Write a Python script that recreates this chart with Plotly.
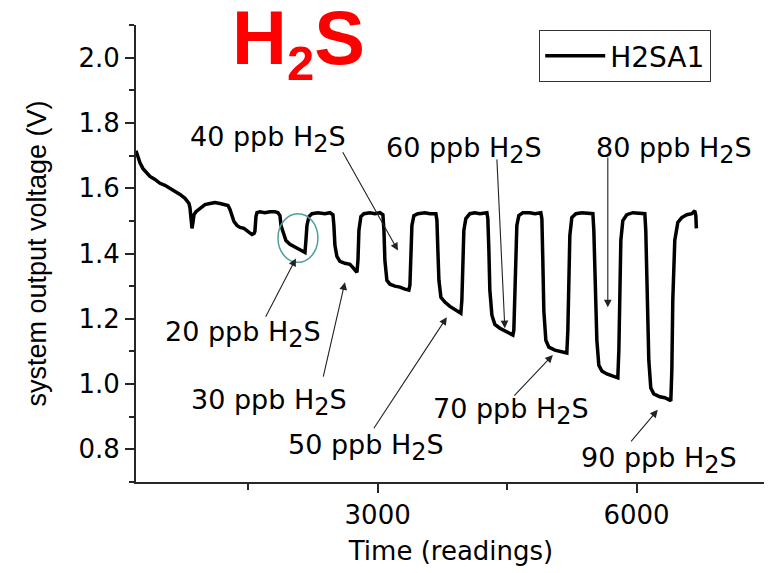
import plotly.graph_objects as go

# ---------------- data ----------------
readings = [200, 223, 246, 281, 316, 362, 420, 478, 536, 594, 652, 710, 768, 814, 825, 837, 849, 860, 872, 895,
            941, 999, 1057, 1115, 1173, 1231, 1266, 1289, 1312, 1335, 1370, 1405, 1451, 1497, 1544, 1567, 1578, 1590, 1602, 1636,
            1694, 1752, 1810, 1845, 1868, 1880, 1903, 1937, 1984, 2042, 2100, 2134, 2158, 2169, 2181, 2204, 2239, 2308, 2389, 2447,
            2482, 2493, 2505, 2528, 2563, 2621, 2679, 2714, 2749, 2760, 2772, 2783, 2806, 2841, 2910, 2968, 3026, 3061, 3073, 3084,
            3107, 3142, 3200, 3258, 3316, 3362, 3374, 3385, 3397, 3420, 3466, 3548, 3606, 3675, 3687, 3698, 3710, 3733, 3779, 3837,
            3895, 3953, 3964, 3976, 3988, 3999, 4022, 4069, 4127, 4185, 4266, 4277, 4289, 4300, 4324, 4358, 4416, 4474, 4532, 4567,
            4578, 4590, 4602, 4613, 4636, 4683, 4764, 4822, 4891, 4903, 4914, 4926, 4949, 4984, 5053, 5111, 5169, 5192, 5204, 5215,
            5227, 5250, 5297, 5366, 5436, 5494, 5505, 5517, 5540, 5563, 5598, 5656, 5714, 5772, 5783, 5795, 5806, 5818, 5841, 5887,
            5957, 6038, 6096, 6107, 6119, 6142, 6165, 6200, 6269, 6327, 6385, 6397, 6409, 6420, 6443, 6478, 6524, 6582, 6640, 6675,
            6687, 6693]
voltage = [1.715, 1.696, 1.678, 1.660, 1.648, 1.636, 1.627, 1.615, 1.609, 1.600, 1.590, 1.581, 1.569, 1.553, 1.541, 1.507, 1.477, 1.495, 1.519, 1.528,
           1.538, 1.550, 1.553, 1.556, 1.553, 1.550, 1.547, 1.535, 1.516, 1.498, 1.486, 1.480, 1.477, 1.468, 1.458, 1.461, 1.468, 1.513, 1.525, 1.528,
           1.525, 1.528, 1.528, 1.525, 1.516, 1.486, 1.464, 1.440, 1.428, 1.419, 1.412, 1.406, 1.403, 1.440, 1.486, 1.513, 1.522, 1.525, 1.522, 1.525,
           1.519, 1.486, 1.425, 1.391, 1.376, 1.370, 1.367, 1.357, 1.348, 1.342, 1.379, 1.471, 1.513, 1.522, 1.525, 1.522, 1.525, 1.519, 1.471, 1.379,
           1.318, 1.306, 1.300, 1.297, 1.291, 1.288, 1.303, 1.409, 1.486, 1.516, 1.522, 1.525, 1.522, 1.522, 1.501, 1.409, 1.318, 1.266, 1.251, 1.238,
           1.229, 1.220, 1.217, 1.257, 1.379, 1.471, 1.507, 1.522, 1.525, 1.522, 1.525, 1.507, 1.409, 1.288, 1.211, 1.183, 1.171, 1.162, 1.156, 1.150,
           1.165, 1.288, 1.409, 1.486, 1.516, 1.525, 1.525, 1.522, 1.525, 1.507, 1.379, 1.223, 1.134, 1.113, 1.104, 1.101, 1.098, 1.095, 1.165, 1.318,
           1.455, 1.510, 1.522, 1.525, 1.522, 1.522, 1.471, 1.318, 1.134, 1.058, 1.040, 1.031, 1.025, 1.019, 1.019, 1.104, 1.288, 1.440, 1.501, 1.519,
           1.525, 1.522, 1.522, 1.471, 1.288, 1.073, 0.988, 0.970, 0.961, 0.958, 0.951, 0.948, 1.043, 1.257, 1.440, 1.495, 1.510, 1.519, 1.522, 1.531,
           1.516, 1.477]

series_name = "H2SA1"

x_tick_vals = [3000, 6000]
x_tick_text = ["3000", "6000"]
y_tick_vals = [0.8, 1.0, 1.2, 1.4, 1.6, 1.8, 2.0]
y_tick_text = ["0.8", "1.0", "1.2", "1.4", "1.6", "1.8", "2.0"]

label_texts = ["20", "30", "40", "50", "60", "70", "80", "90"]
label_x = [1434, 1741, 1735, 2864, 3999, 4544, 6432, 6258]
label_y = [1.214, 1.006, 1.812, 0.869, 1.779, 0.979, 1.779, 0.829]
arrow_tail_x = [1694, 2366, 2586, 2945, 4381, 4567, 5667, 5922]
arrow_tail_y = [1.202, 1.018, 1.715, 0.860, 1.693, 0.960, 1.699, 0.820]
arrow_tip_x = [2053, 2621, 3235, 3802, 4474, 5030, 5667, 6246]
arrow_tip_y = [1.385, 1.312, 1.409, 1.205, 1.171, 1.089, 1.235, 0.921]

circle_x = [1845, 2308]
circle_y = [1.373, 1.522]

FONT = "DejaVu Sans"
AX = "#262626"

fig = go.Figure()
fig.add_trace(go.Scatter(x=readings, y=voltage, mode="lines", name=series_name,
                         line=dict(color="black", width=3.5)))

annotations = []
for t, lx, ly in zip(label_texts, label_x, label_y):
    annotations.append(dict(
        x=lx, y=ly, xref="x", yref="y", xanchor="center", yanchor="top",
        text=t + ' ppb H<sub><span style="font-size:24px">2</span></sub>S',
        showarrow=False, font=dict(family=FONT, size=27, color="black")))
for tx, ty, hx, hy in zip(arrow_tail_x, arrow_tail_y, arrow_tip_x, arrow_tip_y):
    annotations.append(dict(
        x=hx, y=hy, ax=tx, ay=ty, xref="x", yref="y", axref="x", ayref="y",
        text="", showarrow=True, arrowhead=2, arrowsize=1.4, arrowwidth=1.1,
        arrowcolor="#222222", standoff=0, startstandoff=0))

# big red title "H2S"
annotations.append(dict(
    x=0.2587, y=1.071, xref="paper", yref="paper", xanchor="center", yanchor="top",
    text='<b>H<sub><span style="font-size:49px">2</span></sub>S</b>', showarrow=False,
    font=dict(family="Liberation Sans, Arial", size=76, color="#ff0000")))

# the page body has an 8px default margin, so the figure is 8px smaller and margins shifted
fig.update_layout(
    width=764, height=565,
    margin=dict(l=128, r=6, t=17, b=91, pad=0),
    paper_bgcolor="white", plot_bgcolor="white",
    showlegend=True,
    legend=dict(x=0.64, y=0.989, xanchor="left", yanchor="top",
                bordercolor="#333333", borderwidth=1, bgcolor="white",
                font=dict(family=FONT, size=28, color="black"),
                itemwidth=60, tracegroupgap=0),
    annotations=annotations,
    shapes=[dict(type="circle", xref="x", yref="y",
                 x0=circle_x[0], x1=circle_x[1], y0=circle_y[0], y1=circle_y[1],
                 line=dict(color="#4f9f9f", width=1.5))],
    xaxis=dict(range=[200, 7500], tickmode="array", tickvals=x_tick_vals, ticktext=x_tick_text,
               ticks="outside", ticklen=9, tickwidth=2, tickcolor=AX,
               showline=True, linewidth=2, linecolor=AX, showgrid=False, zeroline=False,
               minor=dict(dtick=1500, tick0=0, ticks="outside", ticklen=6, tickwidth=2, tickcolor=AX, showgrid=False),
               tickfont=dict(family=FONT, size=26, color="black"),
               title=dict(text="Time (readings)", font=dict(family=FONT, size=26, color="black"), standoff=13)),
    yaxis=dict(range=[0.7, 2.1], tickmode="array", tickvals=y_tick_vals, ticktext=y_tick_text,
               ticks="outside", ticklen=9, tickwidth=2, tickcolor=AX,
               showline=True, linewidth=2, linecolor=AX, showgrid=False, zeroline=False,
               minor=dict(dtick=0.1, tick0=0.7, ticks="outside", ticklen=5, tickwidth=2, tickcolor=AX, showgrid=False),
               tickfont=dict(family=FONT, size=26, color="black"),
               title=dict(text="system output voltage (V)",
                          font=dict(family="Liberation Sans, Arial", size=27, color="black"), standoff=24)),
)

fig.write_html("out.html")
